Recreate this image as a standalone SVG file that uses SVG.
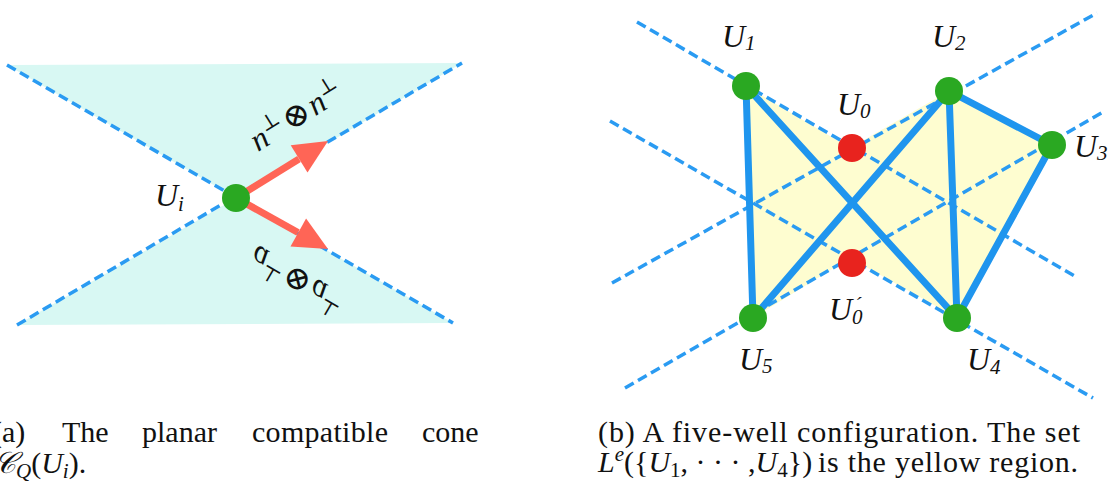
<svg xmlns="http://www.w3.org/2000/svg" width="1113" height="490" viewBox="0 0 1113 490">
<style>
.dash{stroke:#2A9BF2;stroke-width:3.5;stroke-dasharray:10 5;fill:none}
.edge{stroke:#1F95EE;stroke-width:7;stroke-linecap:round;fill:none}
.well{fill:#2AA822}
.red{fill:#E8231E}
.arrow{stroke:#FF6556;stroke-width:7;fill:none}
.head{fill:#FF6556}
.lbl{font-family:'Liberation Serif','Times New Roman','DejaVu Serif',serif;font-style:italic;font-size:32px;fill:#111}
.sub{font-size:21px}
.sym{font-family:'DejaVu Serif',serif;font-style:normal}
.cap{font-family:'Liberation Serif','Times New Roman','DejaVu Serif',serif;font-size:30px;fill:#111}
.capi{font-style:italic}
</style>
<rect width="1113" height="490" fill="#fff"/>
<!-- Panel (a) -->
<g id="cone">
<polygon points="7,65 462,63 236,198" fill="#D8F8F3"/>
<polygon points="17,325 453,323 236,198" fill="#D8F8F3"/>
</g>
<g id="connectors-a">
<line class="dash" x1="7" y1="65" x2="453" y2="323"/>
<line class="dash" x1="17" y1="325" x2="462" y2="63"/>
<line class="arrow" x1="236" y1="198" x2="299" y2="159"/>
<polygon class="head" points="328,141 307.5,172.5 290.7,145.3"/>
<line class="arrow" x1="236" y1="198" x2="298" y2="232.5"/>
<polygon class="head" points="328,249 290.5,246.5 306.1,218.5"/>
</g>
<g id="Ui">
<circle class="well" cx="236" cy="198" r="14"/>
<text class="lbl" x="155" y="206">U<tspan class="sub" dy="5">i</tspan></text>
</g>
<g id="label-n" transform="translate(297,117) rotate(-32)">
<text class="lbl" x="0" y="9" text-anchor="middle" font-size="37">n<tspan class="sub sym" dy="-13" font-size="22">⊥</tspan><tspan class="sym" dy="13" dx="2" font-size="33">⊗</tspan><tspan dx="2">n</tspan><tspan class="sub sym" dy="-13" font-size="22">⊥</tspan></text>
</g>
<g id="label-a" transform="translate(298,278) rotate(30) scale(1,-1)">
<text class="lbl" x="0" y="9" text-anchor="middle" font-size="37">a<tspan class="sub sym" dy="-13" font-size="22">⊥</tspan><tspan class="sym" dy="13" dx="2" font-size="33">⊗</tspan><tspan dx="2">a</tspan><tspan class="sub sym" dy="-13" font-size="22">⊥</tspan></text>
</g>
<!-- Panel (b) -->
<g id="region">
<polygon points="746,86 850,148 949,91 1052,145 957,318 850,258 753,318" fill="#FEFDD0"/>
</g>
<g id="connectors-b">
<line class="dash" x1="637" y1="22" x2="1078" y2="278"/>
<line class="dash" x1="610" y1="121" x2="1093" y2="398"/>
<line class="dash" x1="612" y1="283" x2="1097" y2="13"/>
<line class="dash" x1="625" y1="388" x2="1103" y2="112"/>
<line class="edge" x1="746" y1="86" x2="753" y2="318"/>
<line class="edge" x1="746" y1="86" x2="957" y2="318"/>
<line class="edge" x1="949" y1="91" x2="753" y2="318"/>
<line class="edge" x1="949" y1="91" x2="957" y2="318"/>
<line class="edge" x1="949" y1="91" x2="1052" y2="145"/>
<line class="edge" x1="1052" y1="145" x2="957" y2="318"/>
</g>
<g id="U1"><circle class="well" cx="746" cy="86" r="14"/><text class="lbl" x="722" y="47">U<tspan class="sub" dy="3">1</tspan></text></g>
<g id="U2"><circle class="well" cx="949" cy="91" r="14"/><text class="lbl" x="932" y="47">U<tspan class="sub" dy="3">2</tspan></text></g>
<g id="U3"><circle class="well" cx="1052" cy="145" r="14"/><text class="lbl" x="1074" y="157">U<tspan class="sub" dy="3">3</tspan></text></g>
<g id="U4"><circle class="well" cx="957" cy="318" r="14"/><text class="lbl" x="967" y="370">U<tspan class="sub" dy="4">4</tspan></text></g>
<g id="U5"><circle class="well" cx="753" cy="318" r="14"/><text class="lbl" x="739" y="370">U<tspan class="sub" dy="3">5</tspan></text></g>
<g id="U0"><circle class="red" cx="852" cy="148" r="14"/><text class="lbl" x="837" y="115">U<tspan class="sub" dy="3">0</tspan></text></g>
<g id="U0p"><circle class="red" cx="852" cy="263" r="14"/><text class="lbl" x="829" y="320">U<tspan class="sub" dy="4">0</tspan><tspan class="sub" dx="-8" dy="-12">´</tspan></text></g>
<!-- Captions -->
<g id="caption-a">
<text class="cap" x="-8" y="442">(a)</text>
<text class="cap" x="62" y="442">The</text>
<text class="cap" x="142" y="442">planar</text>
<text class="cap" x="252" y="442" textLength="136">compatible</text>
<text class="cap" x="422" y="442">cone</text>
<text class="cap" x="-6" y="473"><tspan class="capi" font-family="DejaVu Serif">𝒞</tspan><tspan class="capi sub" dy="5">Q</tspan><tspan dy="-5">(</tspan><tspan class="capi">U</tspan><tspan class="capi sub" dy="5">i</tspan><tspan dy="-5">).</tspan></text>
</g>
<g id="caption-b">
<text class="cap" x="598" y="442" textLength="482">(b) A five-well configuration.  The set</text>
<text class="cap" x="598" y="472"><tspan class="capi">L</tspan><tspan class="capi sub" dy="-11">e</tspan><tspan dy="11">({</tspan><tspan class="capi">U</tspan><tspan class="sub" dy="5">1</tspan><tspan dy="-5">, · · · ,</tspan><tspan class="capi">U</tspan><tspan class="sub" dy="5">4</tspan><tspan dy="-5">})</tspan></text>
<text class="cap" x="818" y="472" textLength="260">is the yellow region.</text>
</g>
</svg>
